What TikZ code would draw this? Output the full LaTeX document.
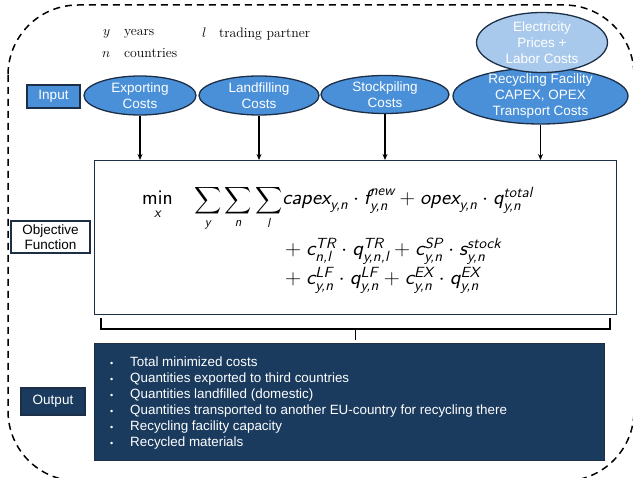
\documentclass[tikz,border=0pt]{standalone}
\usepackage{fix-cm}
\usepackage{amsmath}
\usepackage{fontspec}
\newfontfamily\arial{Liberation Sans}
\usetikzlibrary{shapes.geometric,arrows.meta}
\definecolor{midblue}{RGB}{74,144,217}
\definecolor{lightblue}{RGB}{168,201,236}
\definecolor{edge}{RGB}{28,47,70}
\definecolor{navy}{RGB}{26,59,94}
% sans-serif italic symbols for the cost function
\newcommand{\mv}[1]{\text{\sffamily\itshape #1}}
\newcommand{\yn}{\mv{y,n}}
\newcommand{\sumsize}{\fontsize{20.74}{25}\selectfont}
\newcommand{\wide}[2][1.06]{\scalebox{#1}[1]{#2}}
\tikzset{
  costnode/.style={ellipse, draw=edge, line width=1.3pt, fill=midblue, inner sep=0pt},
  costtext/.style={text=white, font=\arial\fontsize{13.5}{16}\selectfont, align=center, inner sep=0pt},
  tagbox/.style={rectangle, draw=edge, line width=1.3pt, inner sep=0pt},
  tagtext/.style={font=\arial\fontsize{13.5}{15}\selectfont, align=center},
  feed/.style={-{Stealth[length=6pt,width=5pt]}, line width=1.2pt, black},
  legend/.style={font=\fontsize{13.8}{16}\selectfont, inner sep=0pt, anchor=base west},
  formula/.style={font=\fontsize{21}{25}\selectfont, inner sep=0pt, anchor=base west},
  outtext/.style={font=\arial\fontsize{13.4}{16}\selectfont, text=white, inner sep=0pt, anchor=base west},
  border/.style={draw=black, line width=1.5pt, dash pattern=on 7pt off 5pt, rounded corners=70pt},
}
\begin{document}
\begin{tikzpicture}[x=1pt,y=-1pt]
\useasboundingbox (0,0) rectangle (633,478);

% outer dashed frame
\draw[border] (8,5) rectangle (634,481);

% legend of indices
\node[legend] (ly) at (103,36) {$y$};
\node[legend] (lyt) at (124,36) {years};
\node[legend] (ln) at (102,58) {$n$};
\node[legend] (lnt) at (124,58) {countries};
\node[legend] (ll) at (202,38) {$l$};
\node[legend] (llt) at (219,38) {trading partner};

% input row
\node[tagbox, fill=midblue, minimum width=53pt, minimum height=23pt] (input) at (53.5,96.5) {};
\node[tagtext, text=white] (inputT) at (input) {Input};

\node[costnode, minimum width=112pt, minimum height=39pt] (exp) at (140,95.5) {};
\node[costtext] (expT) at (exp) {Exporting\\Costs};
\node[costnode, minimum width=120pt, minimum height=39pt] (lf) at (259,95.5) {};
\node[costtext] (lfT) at (lf) {Landfilling\\Costs};
\node[costnode, minimum width=128pt, minimum height=38pt] (sp) at (385,94.5) {};
\node[costtext] (spT) at (sp) {Stockpiling\\Costs};
\node[costnode, minimum width=175pt, minimum height=56pt] (rc) at (540.5,96) {};
\node[costtext] (rcT) at (rc) {Recycling Facility\\CAPEX, OPEX\\Transport Costs};
\node[costnode, fill=lightblue, minimum width=131pt, minimum height=60pt] (el) at (542,42.5) {};
\node[costtext] (elT) at (el) {Electricity\\Prices +\\Labor Costs};

% objective function box
\node[tagbox, fill=white, minimum width=522pt, minimum height=154pt, anchor=north west] (main) at (94,160) {};
\node[tagbox, fill=white, minimum width=79pt, minimum height=32pt] (obj) at (50.5,237) {};
\node[tagtext, text=black] (objT) at (obj) {Objective\\Function};

\foreach \src in {exp,lf,sp,rc}
  \draw[feed] (\src.south) -- (\src.south |- main.north);

% the cost function
\node[formula] (fmin) at (142,205) {$\displaystyle\mathop{\text{\sffamily min}}\limits_{\mv{x}}$};
\node[formula] (f1) at (194,205) {\scalebox{0.91}{\sumsize$\displaystyle\sum_{\mv{y}}\sum_{\mv{n}}\sum_{\mv{l}}$}\wide[1.03]{$\mv{capex}_{\yn}\cdot \mv{f}^{\mv{new}}_{\yn}+\mv{opex}_{\yn}\cdot \mv{q}^{\mv{total}}_{\yn}$}};
\node[formula] (f2) at (280,256) {\wide{${}+\mv{c}^{\mv{TR}}_{\mv{n,l}}\cdot \mv{q}^{\mv{TR}}_{\mv{y,n,l}}+\mv{c}^{\mv{SP}}_{\yn}\cdot \mv{s}^{\mv{stock}}_{\yn}$}};
\node[formula] (f3) at (280,285) {\wide{${}+\mv{c}^{\mv{LF}}_{\yn}\cdot \mv{q}^{\mv{LF}}_{\yn}+\mv{c}^{\mv{EX}}_{\yn}\cdot \mv{q}^{\mv{EX}}_{\yn}$}};

% bracket joining the function to the results
\coordinate (bl) at (101,318);
\coordinate (br) at (610,318);
\coordinate (bm) at (355.5,329);
\coordinate (bt) at (355.5,340);
\draw[line width=1.3pt, black] (bl) -- (bl |- bm) -- (br |- bm) -- (br);
\draw[line width=1.3pt, black] (bm) -- (bt);

% results
\node[tagbox, fill=navy, minimum width=510pt, minimum height=117pt, anchor=north west] (out) at (94,343) {};
\node[tagbox, fill=navy, minimum width=64pt, minimum height=27pt] (outlab) at (53,401.5) {};
\node[tagtext, text=white] (outlabT) at (outlab) {Output};

\foreach \t [count=\i] in {Total minimized costs,
  Quantities exported to third countries,
  Quantities landfilled (domestic),
  Quantities transported to another EU-country for recycling there,
  Recycling facility capacity,
  Recycled materials}
  \node[outtext] (o\i) at (130,351+16*\i) {\llap{\fontsize{9}{9}\selectfont\textbullet\hspace{17pt}}\t};
\end{tikzpicture}
\end{document}
